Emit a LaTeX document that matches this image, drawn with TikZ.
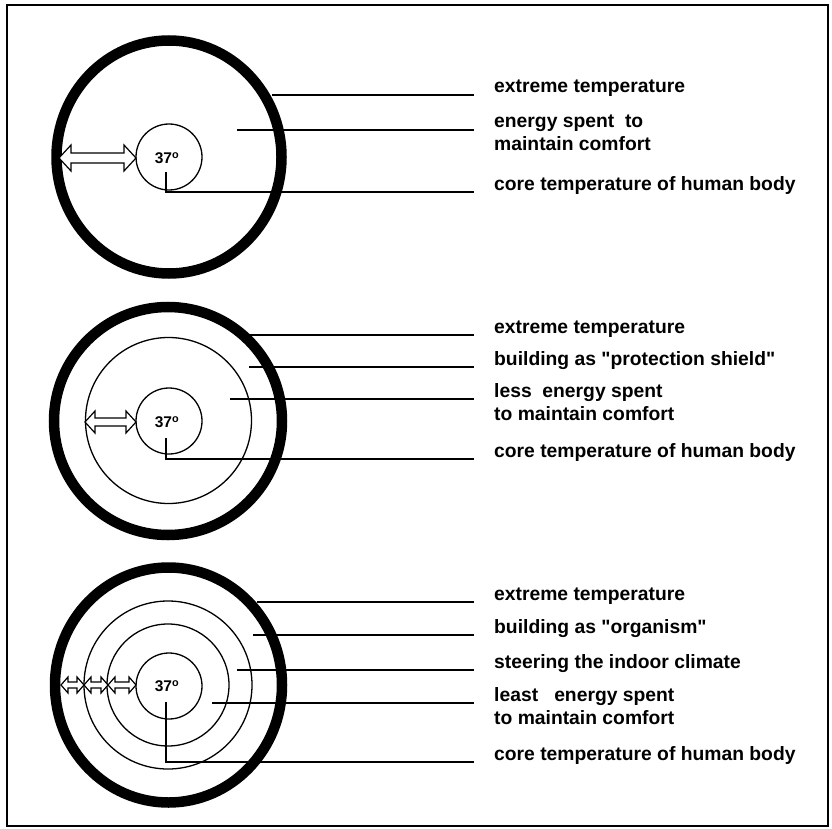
\documentclass[tikz,border=0pt]{standalone}
\usepackage{fontspec}
\setmainfont{Liberation Sans}[Ligatures=TeXOff]
\begin{document}
\begin{tikzpicture}[x=1pt,y=-1pt,
  thickring/.style={line width=10.5pt},
  ring/.style={line width=1.3pt},
  lead/.style={line width=1.2pt},
  lbl/.style={anchor=base west,inner sep=0pt,font=\bfseries\fontsize{19.3}{23}\selectfont,align=left},
  deg/.style={inner sep=0pt,font=\bfseries\fontsize{15.5}{16}\selectfont},
  harrow/.style={line width=1.2pt,fill=white,line join=miter}]
\newcommand\hollowarrow[6]{%
  \draw[harrow] (#1,#3) -- (#1+#4,#3-#5) -- (#1+#4,#3-#6) -- (#2-#4,#3-#6) -- (#2-#4,#3-#5) -- (#2,#3)
    -- (#2-#4,#3+#5) -- (#2-#4,#3+#6) -- (#1+#4,#3+#6) -- (#1+#4,#3+#5) -- cycle;}
\useasboundingbox (0,0) rectangle (832,829);
\draw[line width=1.5pt] (7,5) rectangle (828,826);

% ---------- panel 1 ----------
\draw[thickring] (169,157) ellipse [x radius=112.5, y radius=116.5];
\node[draw,ring,circle,minimum size=66pt,inner sep=0pt] (c1) at (169,157) {};
\node[deg] (t1) at (167,158) {37\textsuperscript{o}};
\hollowarrow{59}{136}{158}{12}{13}{5}
\coordinate (a1) at (272,95);
\coordinate (b1) at (237,130);
\coordinate (v1) at (166,172);
\node[lbl] (l11) at (494,93) {extreme temperature};
\node[lbl] (l12) at (494,151) {energy spent\ \ to\\maintain comfort};
\node[lbl] (l13) at (494,190) {core temperature of human body};
\draw[lead] (a1) -- (474,95);
\draw[lead] (b1) -- (474,130);
\draw[lead] (v1) |- (474,192);

% ---------- panel 2 ----------
\draw[thickring] (168,421) circle [radius=114];
\draw[ring] (168.5,420.5) circle [radius=83];
\node[draw,ring,circle,minimum size=66pt,inner sep=0pt] (c2) at (169,421) {};
\node[deg] (t2) at (167,422) {37\textsuperscript{o}};
\hollowarrow{85}{136}{422}{10}{11}{4}
\coordinate (a2) at (248,335);
\coordinate (b2) at (249,367);
\coordinate (d2) at (230,399);
\coordinate (v2) at (166,438);
\node[lbl] (l21) at (494,333) {extreme temperature};
\node[lbl] (l22) at (494,365) {building as "protection shield"};
\node[lbl] (l23) at (494,420) {less\ \ energy spent\\to maintain comfort};
\node[lbl] (l24) at (494,457) {core temperature of human body};
\draw[lead] (a2) -- (474,335);
\draw[lead] (b2) -- (474,367);
\draw[lead] (d2) -- (474,399);
\draw[lead] (v2) |- (474,459);

% ---------- panel 3 ----------
\draw[thickring] (168.5,685) ellipse [x radius=113.5, y radius=117.5];
\draw[ring] (168,685) circle [radius=84];
\draw[ring] (168,685) circle [radius=61];
\node[draw,ring,circle,minimum size=66pt,inner sep=0pt] (c3) at (169,686) {};
\node[deg] (t3) at (167,686) {37\textsuperscript{o}};
\hollowarrow{61}{84}{685}{7}{8}{3}
\hollowarrow{84}{108}{685}{7}{8}{3}
\hollowarrow{108}{136}{685}{7}{8}{3}
\coordinate (a3) at (257,602);
\coordinate (b3) at (253,635);
\coordinate (d3) at (237,670);
\coordinate (e3) at (212,703);
\coordinate (v3) at (166,702);
\node[lbl] (l31) at (494,600) {extreme temperature};
\node[lbl] (l32) at (494,633) {building as "organism"};
\node[lbl] (l33) at (494,668) {steering the indoor climate};
\node[lbl] (l34) at (494,724) {least\ \ \ energy spent\\to maintain comfort};
\node[lbl] (l35) at (494,760) {core temperature of human body};
\draw[lead] (a3) -- (474,602);
\draw[lead] (b3) -- (474,635);
\draw[lead] (d3) -- (474,670);
\draw[lead] (e3) -- (474,703);
\draw[lead] (v3) |- (474,762);
\end{tikzpicture}
\end{document}
